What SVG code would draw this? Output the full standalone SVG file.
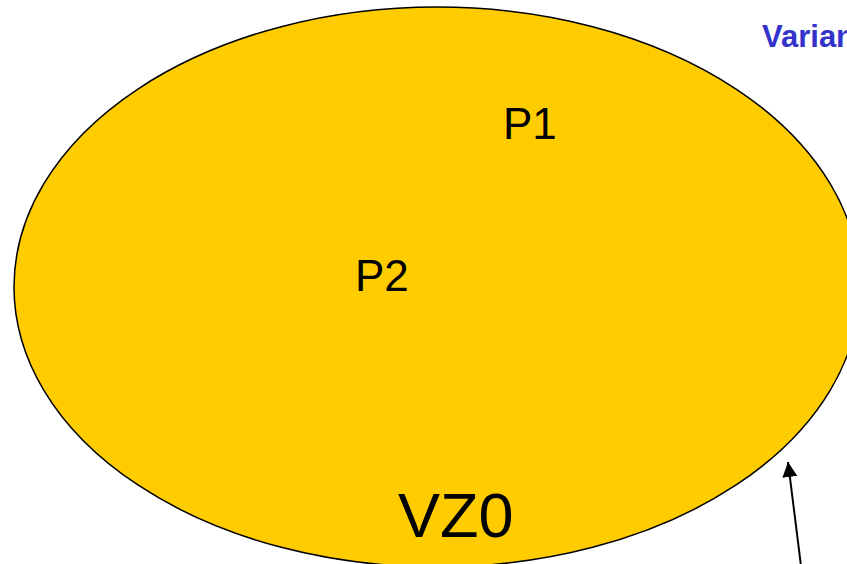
<svg xmlns="http://www.w3.org/2000/svg" width="847" height="564" viewBox="0 0 847 564">
<defs>
<style>
.lbl{font-family:"Liberation Sans",Arial,sans-serif;fill:#000}
.title{font-family:"Liberation Sans",Arial,sans-serif;font-weight:bold;fill:#3333CC}
</style>
<marker id="ah2" viewBox="0 0 15 15" refX="15" refY="7.5" markerWidth="15" markerHeight="15" markerUnits="userSpaceOnUse" orient="auto">
<path d="M0,0 L15,7.5 L0,15 z" fill="#000"/>
</marker>
</defs>
<rect width="847" height="564" fill="#fff"/>
<g id="vz0">
<ellipse cx="437" cy="287" rx="423" ry="280" fill="#FFCC00" stroke="#000" stroke-width="1.5"/>
<text class="lbl" x="398" y="537" font-size="63">VZ0</text>
</g>
<g id="p1"><text class="lbl" x="503" y="139" font-size="44">P1</text></g>
<g id="p2"><text class="lbl" x="355" y="291" font-size="44">P2</text></g>
<g id="title"><text class="title" x="762" y="47" font-size="31">Varian</text></g>
<g id="connectors">
<line x1="801" y1="566" x2="788" y2="462" stroke="#000" stroke-width="2" marker-end="url(#ah2)"/>
</g>
</svg>
